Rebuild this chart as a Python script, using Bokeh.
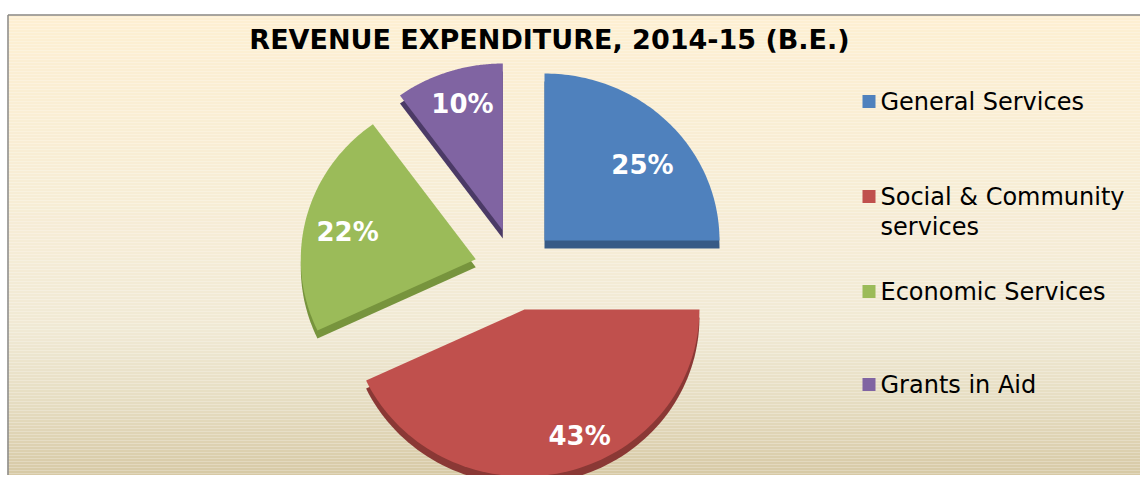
import math
from bokeh.plotting import figure
from bokeh.models import Range1d, ColumnDataSource
from bokeh.core.properties import value
from bokeh.embed import file_html
from bokeh.resources import INLINE

# ---- data ----
categories = ["General Services", "Social & Community\nservices", "Economic Services", "Grants in Aid"]
shares = [25, 43, 22, 10]
pct_labels = ["25%", "43%", "22%", "10%"]
title_text = "REVENUE EXPENDITURE, 2014-15 (B.E.)"

# ---- styles ----
top_colors = ["#4F81BD", "#C0504D", "#9BBB59", "#8064A2"]
side_colors = ["#375A86", "#8A3835", "#77943D", "#4B3A66"]
label_frac = [0.72, 0.82, 0.75, 0.79]
label_turn = [-6, 10, 2.0, -1]  # degrees

W, H = 1140, 475
def Y(sy):  # screen y -> data y
    return H - sy

p = figure(width=W, height=H, output_backend="svg", toolbar_location=None,
           x_range=Range1d(0, W), y_range=Range1d(0, H), min_border=0)
p.axis.visible = False
p.grid.visible = False
p.outline_line_color = None
p.background_fill_color = "white"
p.border_fill_color = "white"

# background gradient (frame area)
stops = [(14, (253, 239, 210)), (250, (245, 236, 214)), (330, (240, 233, 212)),
         (400, (230, 221, 194)), (483, (213, 199, 162))]
def col_at(sy):
    for (a, ca), (b, cb) in zip(stops[:-1], stops[1:]):
        if a <= sy <= b:
            t = (sy - a) / (b - a)
            return "#%02x%02x%02x" % tuple(int(round(ca[i] + (cb[i] - ca[i]) * t)) for i in range(3))
    return "#%02x%02x%02x" % stops[-1][1]
ys = list(range(14, 483, 3))
bg = ColumnDataSource(dict(top=[Y(s) for s in ys], bottom=[Y(s + 3) for s in ys],
                           color=[col_at(s + 1.5) for s in ys]))
p.quad(left=7, right=W + 2, top="top", bottom="bottom", fill_color="color",
       line_color=None, source=bg)
# frame border
p.segment(x0=[7.5, 7.5], y0=[Y(14.5), Y(14.5)], x1=[7.5, W + 2], y1=[Y(490), Y(14.5)],
          line_color="#8a8a8a", line_width=1.5)

# ---- exploded pie (slightly tilted -> ellipse) ----
cx, cy = 515, Y(269)
RX, RY = 175, 167
explode = 41
thick = 8
total = sum(shares)
angles = []
a = math.pi / 2
for i in range(4):
    sweep = shares[i] / total * 2 * math.pi
    angles.append((a - sweep, a))
    a -= sweep

top_xs, top_ys, side_xs, side_ys, lx, ly = [], [], [], [], [], []
for i in range(4):
    e0, e1 = angles[i]
    mid = (e0 + e1) / 2
    vx = cx + explode * math.cos(mid)
    vy = cy + explode * math.sin(mid)
    n = 80
    px = [vx] + [vx + RX * math.cos(e0 + (e1 - e0) * k / n) for k in range(n + 1)]
    py = [vy] + [vy + RY * math.sin(e0 + (e1 - e0) * k / n) for k in range(n + 1)]
    top_xs.append(px); top_ys.append(py)
    side_xs.append(px); side_ys.append([v - thick for v in py])
    la = mid + math.radians(label_turn[i])
    lx.append(vx + label_frac[i] * RX * math.cos(la))
    ly.append(vy + label_frac[i] * RY * math.sin(la))

p.patches(xs=side_xs, ys=side_ys, fill_color=side_colors, line_color=None)
p.patches(xs=top_xs, ys=top_ys, fill_color=top_colors, line_color=None)
p.text(x=lx, y=ly, text=pct_labels, text_color="white",
       text_font=value("DejaVu Sans"), text_font_style="bold", text_font_size="26px",
       text_align="center", text_baseline="middle")

# title
p.text(x=[549], y=[Y(39)], text=[title_text], text_color="black",
       text_font=value("DejaVu Sans"), text_font_style="bold", text_font_size="27px",
       text_align="center", text_baseline="middle")

# legend
leg_y = [Y(101), Y(196), Y(291), Y(384)]
p.scatter(x=[868.5] * 4, y=leg_y, marker="square", size=13, fill_color=top_colors,
          line_color=None)
leg_lines, leg_ly = [], []
for lab, yy in zip(categories, leg_y):
    for k, part in enumerate(lab.split("\n")):
        leg_lines.append(part)
        leg_ly.append(yy - 30 * k)
p.text(x=[880] * len(leg_lines), y=leg_ly, text=leg_lines, text_color="black",
       text_font=value("DejaVu Sans"), text_font_size="24px",
       text_align="left", text_baseline="middle")

open("out.html", "w").write(file_html(p, INLINE))
